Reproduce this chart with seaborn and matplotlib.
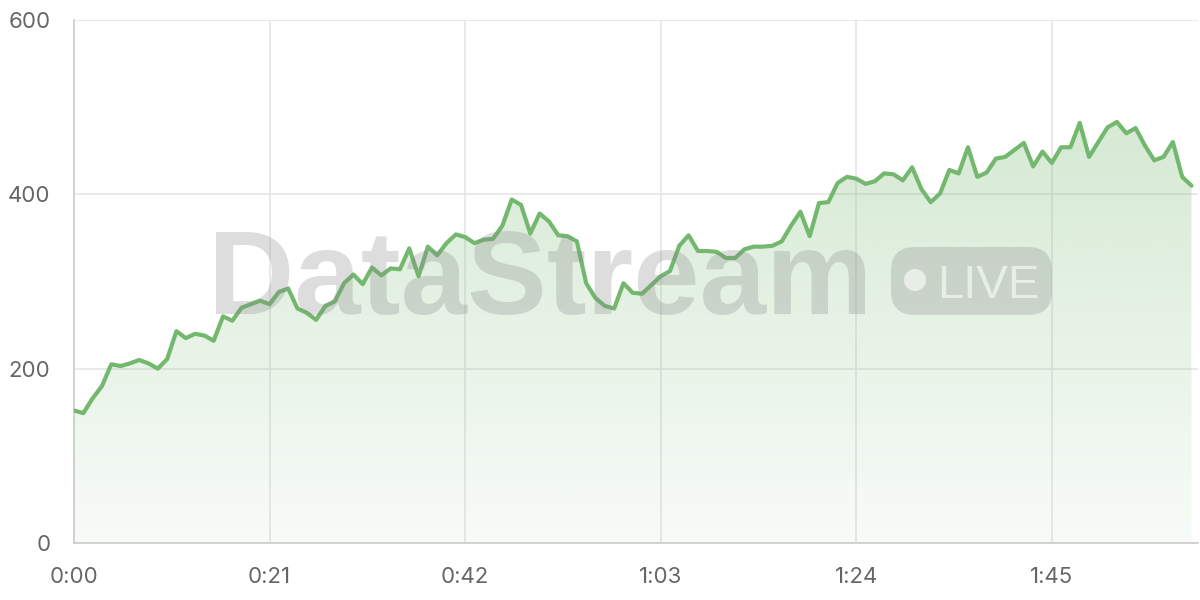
import numpy as np
import pandas as pd
import matplotlib
matplotlib.use("Agg")
import matplotlib.pyplot as plt
from matplotlib.patches import FancyBboxPatch, Circle
import seaborn as sns

# one reading per second, 0:00 .. 2:00
seconds = list(range(121))
values = [
    152, 149, 166, 180, 205, 203, 206, 210, 206, 200,
    211, 243, 235, 240, 238, 232, 260, 255, 270, 274,
    278, 274, 288, 292, 269, 264, 256, 272, 277, 298,
    308, 297, 316, 307, 315, 314, 338, 306, 340, 330,
    344, 354, 351, 344, 348, 349, 364, 394, 388, 355,
    378, 369, 353, 352, 346, 298, 281, 272, 269, 298,
    287, 286, 296, 306, 312, 341, 353, 335, 335, 334,
    327, 327, 337, 340, 340, 341, 346, 364, 380, 352,
    390, 391, 413, 420, 418, 412, 415, 424, 423, 416,
    431, 406, 391, 401, 428, 424, 454, 420, 425, 441,
    443, 451, 459, 432, 449, 436, 454, 454, 482, 443,
    460, 477, 483, 470, 476, 456, 439, 443, 460, 420,
    410,
]
x_ticks = [0, 21, 42, 63, 84, 105]
x_labels = ["0:00", "0:21", "0:42", "1:03", "1:24", "1:45"]
y_ticks = [0, 200, 400, 600]

LINE = "#73b86e"
GRID = "#e6e6e6"
AXIS = "#cccccc"
LABEL = "#666666"

df = pd.DataFrame({"t": seconds, "v": values})

sns.set_style("white")
plt.rcParams["font.family"] = ["Inter", "DejaVu Sans"]

fig = plt.figure(figsize=(12, 6), dpi=100)
ax = fig.add_axes([74 / 1200, 1 - 543 / 600, 1124 / 1200, 523 / 600])

# gradient area under the line
poly = ax.fill_between(df["t"], df["v"], 0, color="none", lw=0)
grad = np.zeros((256, 1, 4))
grad[..., :3] = matplotlib.colors.to_rgb(LINE)
grad[:, 0, 3] = np.linspace(0.30, 0.05, 256)
img = ax.imshow(grad, aspect="auto", origin="upper",
                extent=[0, seconds[-1], 0, max(values)], zorder=1)
img.set_clip_path(poly.get_paths()[0], transform=ax.transData)

sns.lineplot(data=df, x="t", y="v", ax=ax, color=LINE, lw=3, zorder=3)

ax.set_xlim(0, 120.7)
ax.set_ylim(0, 600)
ax.set_xticks(x_ticks, x_labels)
ax.set_yticks(y_ticks)
ax.set_xlabel("")
ax.set_ylabel("")
ax.grid(True, color=GRID, lw=1.2, zorder=0)
ax.set_axisbelow(True)
for side in ["top", "right"]:
    ax.spines[side].set_visible(False)
for side in ["left", "bottom"]:
    ax.spines[side].set_color(AXIS)
    ax.spines[side].set_linewidth(1.2)
ax.tick_params(axis="both", length=11, width=1.2, color=GRID,
               labelsize=16, labelcolor=LABEL, pad=6)

# watermark
wm = dict(transform=fig.dpi_scale_trans, zorder=2)
fig.text(2.08, 2.86, "DataStream", fontsize=86, fontweight="bold",
         family=["Liberation Sans", "DejaVu Sans"],
         color="#888888", alpha=0.28, ha="left", va="baseline", **wm)
pill = FancyBboxPatch((8.91, 2.85), 1.61, 0.68,
                      boxstyle="round,pad=0,rounding_size=0.24",
                      fc="#888888", ec="none", alpha=0.28, **wm)
fig.patches.append(pill)
fig.patches.append(Circle((9.15, 3.20), 0.11, fc="white", ec="none",
                          alpha=0.6, **wm))
fig.text(9.37, 3.02, "LIVE", fontsize=34, color="white", alpha=0.6,
         family=["Liberation Sans", "DejaVu Sans"],
         ha="left", va="baseline", **wm)

fig.savefig("out.png", dpi=100)
